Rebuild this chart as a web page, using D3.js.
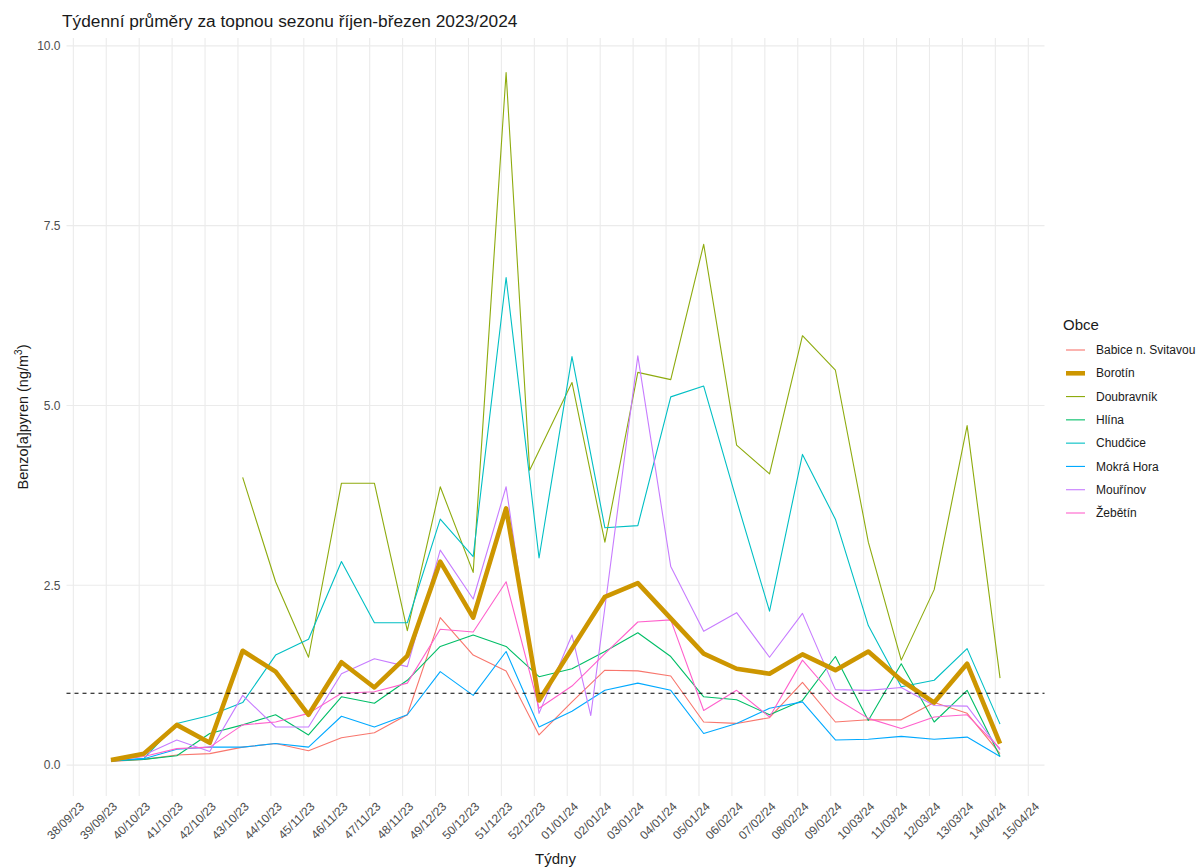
<!DOCTYPE html>
<html>
<head>
<meta charset="utf-8">
<script src="https://cdn.jsdelivr.net/npm/d3@7"></script>
<style>
  body { margin: 0; background: #ffffff; }
  svg { display: block; font-family: "Liberation Sans", Arial, sans-serif; }
</style>
</head>
<body>
<svg id="chart" width="1204" height="868"></svg>
<script>
// Week break labels (ISO week / month / year), one per Monday
const weekLabels = [
  "38/09/23", "39/09/23", "40/10/23", "41/10/23", "42/10/23", "43/10/23", "44/10/23",
  "45/11/23", "46/11/23", "47/11/23", "48/11/23", "49/12/23", "50/12/23", "51/12/23",
  "52/12/23", "01/01/24", "02/01/24", "03/01/24", "04/01/24", "05/01/24", "06/02/24",
  "07/02/24", "08/02/24", "09/02/24", "10/03/24", "11/03/24", "12/03/24", "13/03/24",
  "14/04/24", "15/04/24"
];
const firstWeekStart = "2023-09-18";

// Weekly mean benzo[a]pyrene (ng/m3), weeks 39/09/23 .. 14/04/24
const municipalities = ["Babice n. Svitavou", "Borotín", "Doubravník", "Hlína", "Chudčice", "Mokrá Hora", "Mouřínov", "Žebětín"];

const babice = [0.05, 0.08, 0.14, 0.16, 0.25, 0.30, 0.20, 0.38, 0.45, 0.70, 2.05, 1.53, 1.31, 0.42, 0.88, 1.32, 1.31, 1.24, 0.60, 0.58, 0.66, 1.15, 0.60, 0.63, 0.63, 0.87, 0.72, 0.16];
const borotin = [0.07, 0.16, 0.56, 0.31, 1.59, 1.30, 0.70, 1.43, 1.08, 1.52, 2.83, 2.05, 3.57, 0.90, 1.62, 2.34, 2.53, 2.04, 1.55, 1.34, 1.27, 1.54, 1.32, 1.58, 1.18, 0.87, 1.41, 0.30];
const doubravnik = [null, null, null, null, 4.00, 2.55, 1.50, 3.92, 3.92, 1.87, 3.87, 2.68, 9.63, 4.10, 5.32, 3.10, 5.46, 5.36, 7.24, 4.45, 4.05, 5.97, 5.49, 3.10, 1.46, 2.44, 4.72, 1.21];
const hlina = [0.06, 0.08, 0.13, 0.44, 0.56, 0.70, 0.42, 0.95, 0.86, 1.18, 1.65, 1.81, 1.65, 1.23, 1.34, 1.58, 1.84, 1.51, 0.95, 0.91, 0.70, 0.90, 1.51, 0.62, 1.41, 0.60, 1.04, 0.12];
const chudcice = [0.06, 0.09, 0.58, 0.69, 0.87, 1.53, 1.75, 2.83, 1.98, 1.98, 3.42, 2.90, 6.78, 2.88, 5.68, 3.30, 3.33, 5.12, 5.27, 3.68, 2.14, 4.32, 3.42, 1.94, 1.09, 1.18, 1.62, 0.57];
const mokraHora = [0.06, 0.09, 0.22, 0.25, 0.25, 0.30, 0.25, 0.68, 0.53, 0.70, 1.30, 0.97, 1.58, 0.53, 0.75, 1.04, 1.14, 1.04, 0.44, 0.58, 0.79, 0.88, 0.35, 0.36, 0.40, 0.36, 0.39, 0.12];
const mourinov = [0.07, 0.14, 0.35, 0.19, 0.97, 0.53, 0.53, 1.27, 1.48, 1.37, 2.99, 2.31, 3.87, 0.72, 1.81, 0.69, 5.69, 2.76, 1.86, 2.12, 1.50, 2.11, 1.05, 1.04, 1.08, 0.83, 0.82, 0.21];
const zebetin = [0.06, 0.12, 0.23, 0.25, 0.56, 0.60, 0.72, 1.00, 1.02, 1.14, 1.89, 1.85, 2.55, 0.79, 1.10, 1.55, 1.99, 2.02, 0.76, 1.04, 0.67, 1.46, 0.93, 0.65, 0.51, 0.67, 0.70, 0.23];

// Samples that were not taken on the usual weekday
const sampleDateExceptions = {
  "Doubravník": { 13: "2023-12-24" },
  "Mouřínov": { 15: "2024-01-06" }
};

const limitValue = 1; // target value, dashed reference line

const seriesValues = [babice, borotin, doubravnik, hlina, chudcice, mokraHora, mourinov, zebetin];
const seriesColors = ["#F8766D", "#CD9600", "#8EAB0E", "#00BE67", "#00BFC4", "#00A9FF", "#C77CFF", "#FF61CC"];

// ---- layout ----
const panel = { left: 66.5, right: 1044.5, top: 38, bottom: 796 };
const svg = d3.select("#chart");
const FONT = "Liberation Sans, Arial, sans-serif";

const parseDay = d3.timeParse("%Y-%m-%d");
const breakDates = d3.range(weekLabels.length).map(k => d3.timeDay.offset(parseDay(firstWeekStart), 7 * k));
const sampleDates = breakDates.slice(1, 29).map(d => d3.timeDay.offset(d, 1));

const series = municipalities.map((name, s) => {
  const exc = sampleDateExceptions[name] || {};
  const pts = seriesValues[s].map((v, k) => ({
    date: exc[k] ? parseDay(exc[k]) : sampleDates[k],
    value: v
  })).filter(p => p.value !== null);
  return { name, color: seriesColors[s], points: pts, thick: name === "Borotín" };
});

const allPts = series.flatMap(s => s.points);
const xExt = d3.extent(allPts, p => p.date);
const yExt = d3.extent(allPts, p => p.value);
const xPad = (xExt[1] - xExt[0]) * 0.05;
const yPad = (yExt[1] - yExt[0]) * 0.05;

const x = d3.scaleTime()
  .domain([new Date(+xExt[0] - xPad), new Date(+xExt[1] + xPad)])
  .range([panel.left, panel.right]);
const y = d3.scaleLinear()
  .domain([yExt[0] - yPad, yExt[1] + yPad])
  .range([panel.bottom, panel.top]);

// ---- grid ----
const grid = svg.append("g");
grid.selectAll("line.v").data(breakDates).join("line")
  .attr("x1", d => x(d)).attr("x2", d => x(d))
  .attr("y1", panel.top).attr("y2", panel.bottom)
  .attr("stroke", "#ebebeb").attr("stroke-width", 1.1);
const yTicks = [0, 2.5, 5, 7.5, 10];
grid.selectAll("line.h").data(yTicks).join("line")
  .attr("x1", panel.left).attr("x2", panel.right)
  .attr("y1", d => y(d)).attr("y2", d => y(d))
  .attr("stroke", "#ebebeb").attr("stroke-width", 1.1);

// ---- axes ----
const yAxis = d3.axisLeft(y).tickValues(yTicks).tickFormat(d3.format(".1f")).tickSize(0).tickPadding(6);
const gy = svg.append("g").attr("transform", `translate(${panel.left},0)`).call(yAxis);
gy.select(".domain").remove();
gy.selectAll("text").attr("fill", "#4d4d4d").attr("font-size", 12).attr("font-family", FONT);

const xAxis = d3.axisBottom(x).tickValues(breakDates).tickFormat((d, k) => weekLabels[k]).tickSize(0);
const gx = svg.append("g").attr("transform", `translate(0,${panel.bottom})`).call(xAxis);
gx.select(".domain").remove();
gx.selectAll("text")
  .attr("fill", "#4d4d4d").attr("font-size", 12).attr("font-family", FONT)
  .attr("text-anchor", "end")
  .attr("dy", null).attr("y", 0)
  .attr("transform", "translate(5,5) rotate(-45)")
  .attr("dominant-baseline", "hanging");

// ---- lines ----
const line = d3.line().x(p => x(p.date)).y(p => y(p.value));
const lines = svg.append("g").attr("fill", "none").attr("stroke-linejoin", "round");
series.filter(s => !s.thick).forEach(s => {
  lines.append("path").attr("d", line(s.points)).attr("stroke", s.color).attr("stroke-width", 1.1);
});
series.filter(s => s.thick).forEach(s => {
  lines.append("path").attr("d", line(s.points)).attr("stroke", s.color).attr("stroke-width", 4.6);
});

// reference level
svg.append("line")
  .attr("x1", panel.left).attr("x2", panel.right)
  .attr("y1", y(limitValue)).attr("y2", y(limitValue))
  .attr("stroke", "#000").attr("stroke-width", 1.1).attr("stroke-dasharray", "4,4");

// ---- titles ----
svg.append("text").attr("x", 62).attr("y", 27)
  .attr("font-size", 17.3).attr("fill", "#1a1a1a")
  .text("Týdenní průměry za topnou sezonu říjen-březen 2023/2024");

svg.append("text").attr("x", (panel.left + panel.right) / 2).attr("y", 864)
  .attr("text-anchor", "middle").attr("font-size", 15).attr("fill", "#1a1a1a")
  .text("Týdny");

const yTitle = svg.append("text")
  .attr("transform", `translate(28,${(panel.top + panel.bottom) / 2}) rotate(-90)`)
  .attr("text-anchor", "middle").attr("font-size", 14.5).attr("fill", "#1a1a1a");
yTitle.append("tspan").text("Benzo[a]pyren (ng/m");
yTitle.append("tspan").attr("font-size", 10).attr("dy", -6).text("3");
yTitle.append("tspan").attr("dy", 6).text(")");

// ---- legend ----
const legend = svg.append("g").attr("transform", "translate(1063,0)");
legend.append("text").attr("x", 0).attr("y", 330).attr("font-size", 15).attr("fill", "#1a1a1a").text("Obce");
const rowY = d3.scalePoint().domain(municipalities).range([350, 513]);
const items = legend.selectAll("g.item").data(series).join("g")
  .attr("transform", s => `translate(0,${rowY(s.name)})`);
items.append("line").attr("x1", 3).attr("x2", 22).attr("y1", 0).attr("y2", 0)
  .attr("stroke", s => s.color).attr("stroke-width", s => s.thick ? 4.6 : 1.1);
items.append("text").attr("x", 33).attr("y", 0).attr("dy", "0.35em")
  .attr("font-size", 12).attr("fill", "#1a1a1a").text(s => s.name);
</script>
</body>
</html>
